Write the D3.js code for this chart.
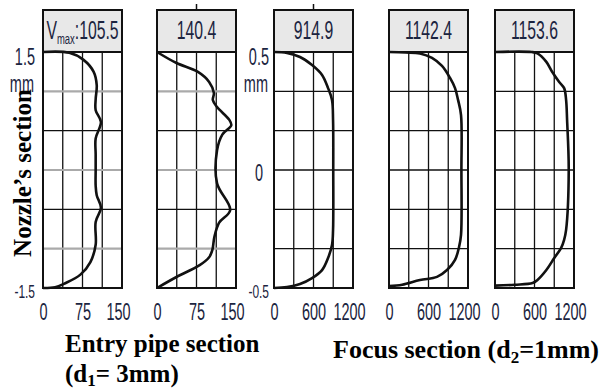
<!DOCTYPE html>
<html>
<head>
<meta charset="utf-8">
<script src="https://cdn.jsdelivr.net/npm/d3@7"></script>
<style>
  body { margin: 0; background: #fff; }
  svg { display: block; }
</style>
</head>
<body>
<div id="chart"></div>
<script>
// Vmax written in the header box of each panel
var vmaxLabels = ["105.5", "140.4", "914.9", "1142.4", "1153.6"];

// x axis tick labels
var entryTicks = [0, 75, 150];
var focusTicks = [0, 600, 1200];

// y axis labels (mm)
var entryPos = [1.5, -1.5];
var focusPos = [0.5, 0, -0.5];

// velocity profiles, [velocity, position across the section]
var entry1 = [[0, 1.5], [50, 1.49], [77, 1.40], [96, 1.25], [102, 1.08], [100, 0.9], [100, 0.76],
  [110, 0.61], [100, 0.4], [100, 0.2], [100, 0], [100, -0.2], [102, -0.32], [110, -0.48],
  [100, -0.66], [100, -0.95], [90, -1.17], [71, -1.33], [42, -1.44], [23, -1.49], [0, -1.5]];

var entry2 = [[0, 1.5], [37, 1.36], [77, 1.25], [99, 1.12], [108, 0.98], [106, 0.89], [114, 0.8],
  [137, 0.64], [141, 0.57], [124, 0.45], [114, 0.25], [114, -0.17], [139, -0.51], [118, -0.67],
  [109, -0.85], [105, -1.02], [99, -1.11], [81, -1.21], [37, -1.36], [0, -1.5]];

var focus1 = [[0, 0.5], [198, 0.496], [395, 0.479], [578, 0.445], [730, 0.403], [821, 0.347],
  [881, 0.297], [897, 0.212], [900, 0], [897, -0.254], [881, -0.318], [821, -0.373],
  [730, -0.424], [578, -0.458], [395, -0.483], [198, -0.496], [0, -0.5]];

var focus2 = [[0, 0.5], [250, 0.498], [471, 0.494], [653, 0.475], [805, 0.441], [927, 0.39],
  [1003, 0.347], [1049, 0.297], [1094, 0.233], [1100, 0], [1094, -0.275], [1064, -0.326],
  [1003, -0.381], [881, -0.424], [729, -0.453], [471, -0.466], [200, -0.486], [0, -0.492]];

var focus3 = [[0, 0.5], [555, 0.5], [645, 0.494], [780, 0.458], [870, 0.415], [975, 0.373],
  [1050, 0.347], [1080, 0.297], [1095, 0.212], [1120, 0], [1080, -0.254], [1050, -0.296],
  [1005, -0.33], [900, -0.373], [780, -0.424], [645, -0.466], [570, -0.479], [300, -0.486],
  [0, -0.49]];

var profiles = [entry1, entry2, focus1, focus2, focus3];

// chart area
var svgWidth = 604;
var svgHeight = 392;

var panelLeft = [43, 157, 274, 389, 495];
var panelWidth = 79;
var plotTop = 52, plotBottom = 288, headerTop = 10;

var textColor = "#1b2440";
var sans = "Liberation Sans, Arial, sans-serif";
var narrow = 0.63;   // squeeze for the condensed sans labels

var svg = d3.select("#chart")
  .append("svg")
  .attr("width", svgWidth)
  .attr("height", svgHeight);

profiles.forEach(function (data, i) {
  var isEntry = i < 2;
  var ticks = isEntry ? entryTicks : focusTicks;
  var posMax = isEntry ? entryPos[0] : focusPos[0];

  var x = d3.scaleLinear()
    .domain([0, ticks[ticks.length - 1]])
    .range([panelLeft[i], panelLeft[i] + panelWidth]);

  var y = d3.scaleLinear()
    .domain([-posMax, posMax])
    .range([plotBottom, plotTop]);

  var g = svg.append("g");

  // header box
  g.append("rect")
    .attr("x", x.range()[0])
    .attr("y", headerTop)
    .attr("width", panelWidth)
    .attr("height", plotTop - headerTop)
    .attr("fill", "#e8e8e8")
    .attr("stroke", "#111")
    .attr("stroke-width", 2);

  if (i == 1 || i == 2) {
    g.append("line")
      .attr("x1", d3.mean(x.range())).attr("x2", d3.mean(x.range()))
      .attr("y1", 4).attr("y2", headerTop)
      .attr("stroke", "#111").attr("stroke-width", 1.5);
  }

  var head = g.append("text")
    .attr("transform", `translate(${d3.mean(x.range())}, 39) scale(${narrow}, 1)`)
    .attr("text-anchor", "middle")
    .attr("font-family", sans)
    .attr("font-size", 25)
    .attr("fill", textColor);
  if (i == 0) {
    head.append("tspan").text("V");
    head.append("tspan").attr("font-size", 15).attr("dy", 5).text("max");
    head.append("tspan").attr("dy", -5).text(":" + vmaxLabels[i]);
  } else {
    head.text(vmaxLabels[i]);
  }

  // grid
  var step = ticks[1] / 2;
  var vgrid = d3.range(step, x.domain()[1], step);
  g.selectAll(".vgrid")
    .data(vgrid)
    .enter()
    .append("line")
    .attr("x1", d => x(d)).attr("x2", d => x(d))
    .attr("y1", plotTop).attr("y2", plotBottom)
    .attr("stroke", "#111")
    .attr("stroke-width", 1.3);

  var hgrid = d3.range(1, 6).map(k => -posMax + k * posMax / 3);
  g.selectAll(".hgrid")
    .data(hgrid)
    .enter()
    .append("line")
    .attr("x1", x.range()[0]).attr("x2", x.range()[1])
    .attr("y1", d => y(d)).attr("y2", d => y(d))
    .attr("stroke", (d, k) => (isEntry && k % 2 == 0) ? "#aaa" : "#111")
    .attr("stroke-width", (d, k) => (isEntry && k % 2 == 0) ? 2.2 : 1.3);

  // frame
  g.append("rect")
    .attr("x", x.range()[0])
    .attr("y", plotTop)
    .attr("width", panelWidth)
    .attr("height", plotBottom - plotTop)
    .attr("fill", "none")
    .attr("stroke", "#111")
    .attr("stroke-width", 2);

  // profile
  var line = d3.line()
    .x(d => x(d[0]))
    .y(d => y(d[1]))
    .curve(d3.curveCatmullRom.alpha(0.5));

  g.append("path")
    .datum(data)
    .attr("d", line)
    .attr("fill", "none")
    .attr("stroke", "#111")
    .attr("stroke-width", 2.6)
    .attr("stroke-linejoin", "round");

  // x axis labels
  var axis = g.append("g")
    .attr("transform", `translate(0, ${plotBottom})`)
    .call(d3.axisBottom(x).tickValues(ticks).tickSize(0).tickFormat(d3.format("d")));
  axis.select(".domain").remove();
  axis.attr("font-family", sans).attr("font-size", 23);
  axis.selectAll("text")
    .attr("y", 32)
    .attr("dy", 0)
    .attr("fill", textColor)
    .attr("transform", (d, k) => `translate(${k == ticks.length - 1 ? -4 : 0}, 0) scale(${narrow}, 1)`);

  // y labels on first panel of each group
  if (i == 0 || i == 2) {
    var labels = isEntry ? entryPos : focusPos;
    var lx = x.range()[0] - (isEntry ? 8 : 5);
    labels.forEach(function (p) {
      var big = p >= 0;
      var yy = p > 0 ? y(p) + 13 : (p == 0 ? y(p) + 11 : y(p) + 10);
      svg.append("text")
        .attr("transform", `translate(${p == 0 ? lx - 6 : lx}, ${yy}) scale(${narrow}, 1)`)
        .attr("text-anchor", "end")
        .attr("font-family", sans)
        .attr("font-size", big ? 23 : 19)
        .attr("fill", textColor)
        .text(p);
    });
    svg.append("text")
      .attr("transform", `translate(${lx - 1}, 92) scale(${narrow}, 1)`)
      .attr("text-anchor", "end")
      .attr("font-family", sans)
      .attr("font-size", 23)
      .attr("fill", textColor)
      .text("mm");
  }
});

// bold captions
var serif = "Liberation Serif, Times New Roman, serif";

svg.append("text")
  .attr("transform", "translate(31, 173) rotate(-90)")
  .attr("text-anchor", "middle")
  .attr("font-family", serif)
  .attr("font-weight", "bold")
  .attr("font-size", 25)
  .attr("fill", "#000")
  .text("Nozzle\u2019s section");

svg.append("text")
  .attr("x", 65).attr("y", 352)
  .attr("font-family", serif)
  .attr("font-weight", "bold")
  .attr("font-size", 25)
  .text("Entry pipe section");

var d1 = svg.append("text")
  .attr("x", 65).attr("y", 382)
  .attr("font-family", serif)
  .attr("font-weight", "bold")
  .attr("font-size", 25);
d1.append("tspan").text("(d");
d1.append("tspan").attr("font-size", 17).attr("dy", 4).text("1");
d1.append("tspan").attr("dy", -4).text("= 3mm)");

var d2 = svg.append("text")
  .attr("x", 333).attr("y", 358)
  .attr("font-family", serif)
  .attr("font-weight", "bold")
  .attr("font-size", 26);
d2.append("tspan").text("Focus section (d");
d2.append("tspan").attr("font-size", 17).attr("dy", 5).text("2");
d2.append("tspan").attr("dy", -5).text("=1mm)");
</script>
</body>
</html>
